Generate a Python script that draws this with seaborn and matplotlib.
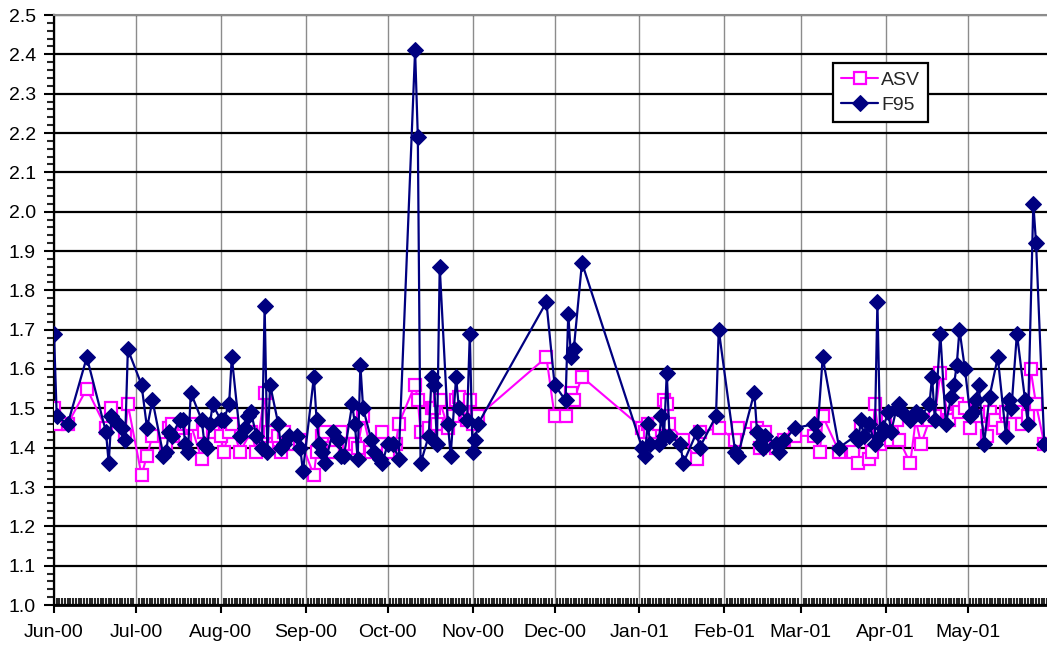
import matplotlib
matplotlib.use("Agg")
import matplotlib.pyplot as plt
import matplotlib.dates as mdates
from matplotlib.ticker import MultipleLocator, FormatStrFormatter
import pandas as pd
import seaborn as sns

start = pd.Timestamp("2000-06-01")

# day offsets from 1 Jun 2000 and values
asv_days = [0, 1, 5, 12, 19, 21, 26, 27, 32, 34, 36, 41, 42, 43, 46, 48, 50, 54, 55, 58,
            61, 62, 64, 65, 68, 72, 74, 77, 78, 79, 82, 83, 84, 88, 90, 95, 96, 98, 99, 102,
            105, 108, 110, 111, 113, 116, 119, 120, 122, 125, 126, 132, 133, 134, 137, 138,
            139, 140, 141, 144, 146, 147, 148, 151, 152, 153, 155,
            180, 183, 187, 189, 190, 193,
            215, 216, 217, 218, 221, 223, 224, 225, 230, 235, 236, 243, 249, 250, 257, 258,
            260, 264, 267, 271, 278, 280, 281, 287, 292, 294, 295, 298, 299, 300, 302, 305,
            306, 308, 309, 313, 315, 317, 320, 322, 324, 327, 330, 331, 333, 335, 338, 341,
            342, 344, 347, 348, 352, 354, 356, 357, 359, 362]
asv_vals = [1.50, 1.46, 1.46, 1.55, 1.45, 1.50, 1.43, 1.51, 1.33, 1.38, 1.43, 1.41, 1.45, 1.46,
            1.43, 1.42, 1.46, 1.37, 1.44, 1.44,
            1.43, 1.39, 1.44, 1.46, 1.39, 1.44, 1.39, 1.54, 1.40, 1.44, 1.43, 1.39, 1.44, 1.41,
            1.42, 1.33, 1.39, 1.43, 1.44, 1.39,
            1.44, 1.41, 1.41, 1.40, 1.48, 1.39, 1.41, 1.44, 1.39, 1.41, 1.46, 1.56, 1.52, 1.44,
            1.45, 1.50, 1.50, 1.46, 1.52, 1.45, 1.48, 1.52, 1.53, 1.47, 1.52, 1.46, 1.48,
            1.63, 1.48, 1.48, 1.54, 1.52, 1.58,
            1.45, 1.44, 1.46, 1.44, 1.46, 1.52, 1.51, 1.46, 1.42, 1.37, 1.44, 1.45, 1.42, 1.45,
            1.45, 1.40, 1.44, 1.40, 1.42, 1.43, 1.43, 1.39, 1.48, 1.39, 1.39, 1.36, 1.45, 1.37,
            1.39, 1.51, 1.41, 1.47, 1.42, 1.47, 1.42, 1.36, 1.47, 1.41, 1.47, 1.48, 1.59, 1.47,
            1.51, 1.49, 1.50, 1.45, 1.48, 1.43, 1.49, 1.47, 1.45, 1.49, 1.49, 1.46, 1.48, 1.60,
            1.51, 1.41]

f95_days = [0, 1, 5, 12, 19, 20, 21, 22, 25, 26, 27, 32, 34, 36, 40, 41, 42, 43, 46, 47,
            48, 49, 50, 54, 55, 56, 57, 58, 61, 62, 64, 65, 68, 70, 71, 72, 74, 76, 77, 78,
            79, 82, 83, 84, 86, 89, 90, 91, 95, 96, 97, 98, 99, 102, 104, 105, 106, 109, 110,
            111, 112, 113, 116, 117, 119, 120, 122, 124, 126, 132, 133, 134, 137, 138, 139,
            140, 141, 144, 145, 147, 148, 151, 152, 153, 154, 155,
            180, 183, 187, 188, 189, 190, 193,
            215, 216, 217, 218, 221, 222, 223, 224, 225, 229, 230, 235, 236, 242, 243, 249,
            250, 256, 257, 258, 259, 260, 264, 265, 267, 271, 278, 279, 281, 287, 293, 294,
            295, 296, 298, 300, 301, 302, 303, 305, 306, 308, 309, 310, 313, 315, 317, 320,
            321, 322, 324, 326, 328, 329, 330, 331, 333, 335, 336, 337, 338, 340, 342, 345,
            348, 349, 350, 352, 355, 356, 358, 359, 362]
f95_vals = [1.69, 1.48, 1.46, 1.63, 1.44, 1.36, 1.48, 1.47, 1.45, 1.42, 1.65, 1.56, 1.45, 1.52,
            1.38, 1.39, 1.44, 1.43, 1.47, 1.47,
            1.41, 1.39, 1.54, 1.47, 1.41, 1.40, 1.46, 1.51, 1.47, 1.47, 1.51, 1.63, 1.43, 1.45,
            1.48, 1.49, 1.43, 1.40, 1.76, 1.39,
            1.56, 1.46, 1.40, 1.41, 1.43, 1.43, 1.40, 1.34, 1.58, 1.47, 1.41, 1.39, 1.36, 1.44,
            1.42, 1.38, 1.38, 1.51, 1.46,
            1.37, 1.61, 1.50, 1.42, 1.39, 1.37, 1.36, 1.41, 1.41, 1.37, 2.41, 2.19, 1.36, 1.43,
            1.58, 1.56,
            1.41, 1.86, 1.46, 1.38, 1.58, 1.50, 1.47, 1.69, 1.39, 1.42, 1.46,
            1.77, 1.56, 1.52, 1.74, 1.63, 1.65, 1.87,
            1.40, 1.38, 1.46, 1.41, 1.41, 1.48, 1.43, 1.59, 1.43, 1.41, 1.36, 1.44, 1.40, 1.48,
            1.70, 1.39,
            1.38, 1.54, 1.44, 1.41, 1.40, 1.43, 1.41, 1.39, 1.42, 1.45, 1.46, 1.43, 1.63, 1.40,
            1.43, 1.42,
            1.47, 1.43, 1.46, 1.41, 1.77, 1.43, 1.45, 1.49, 1.44, 1.50, 1.51, 1.49, 1.47, 1.49,
            1.48, 1.51,
            1.58, 1.47, 1.69, 1.46, 1.53, 1.56, 1.61, 1.70, 1.60, 1.48, 1.49, 1.52, 1.56, 1.41,
            1.53, 1.63,
            1.43, 1.52, 1.50, 1.69, 1.52, 1.46, 2.02, 1.92, 1.41]

asv = pd.DataFrame({"date": start + pd.to_timedelta(asv_days, unit="D"), "value": asv_vals})
f95 = pd.DataFrame({"date": start + pd.to_timedelta(f95_days, unit="D"), "value": f95_vals})

sns.set_style("white")
plt.rcParams["font.family"] = ["Liberation Sans", "DejaVu Sans"]
plt.rcParams["font.size"] = 14

fig = plt.figure(figsize=(10.47, 6.47), dpi=100)
ax = fig.add_axes([54 / 1047, 42 / 647, 993 / 1047, 590 / 647])

sns.lineplot(data=asv, x="date", y="value", ax=ax, color="#FF00FF", linewidth=1.5,
             marker="s", markersize=8, markerfacecolor="white", markeredgecolor="#FF00FF",
             markeredgewidth=1.6, estimator=None, sort=False, label="ASV", zorder=3)
sns.lineplot(data=f95, x="date", y="value", ax=ax, color="#000080", linewidth=1.6,
             marker="D", markersize=8, markeredgecolor="#000080", markerfacecolor="#000080",
             estimator=None, sort=False, label="F95", zorder=4)

ax.set_xlim(start, start + pd.Timedelta(days=363))
ax.set_ylim(1.0, 2.5)
ax.set_xlabel("")
ax.set_ylabel("")

ax.xaxis.set_major_locator(mdates.MonthLocator())
ax.xaxis.set_minor_locator(mdates.DayLocator())
ax.xaxis.set_major_formatter(mdates.DateFormatter("%b-%y"))
ax.yaxis.set_major_locator(MultipleLocator(0.1))
ax.yaxis.set_minor_locator(MultipleLocator(0.02))
ax.yaxis.set_major_formatter(FormatStrFormatter("%.1f"))

ax.tick_params(axis="x", which="major", direction="out", length=6, width=1.5, pad=8,
               bottom=True, labelsize=14, colors="black")
ax.tick_params(axis="x", which="minor", direction="in", length=5, width=1.5, bottom=True)
ax.tick_params(axis="y", which="major", direction="out", length=7, width=1.5, pad=6,
               left=True, labelsize=14, colors="black")
ax.tick_params(axis="y", which="minor", direction="out", length=5, width=1.5, left=True)

ax.set_axisbelow(True)
ax.yaxis.grid(True, which="major", color="black", linewidth=1.6)
ax.xaxis.grid(True, which="major", color="#8c8c8c", linewidth=1.0)

for side in ["left", "bottom"]:
    ax.spines[side].set_color("black")
    ax.spines[side].set_linewidth(1.6)
ax.spines["bottom"].set_linewidth(2)
ax.spines["top"].set_color("#8c8c8c")
ax.spines["top"].set_linewidth(1.5)
ax.spines["right"].set_visible(False)

handles, labels = ax.get_legend_handles_labels()
order = [labels.index("ASV"), labels.index("F95")]
leg = ax.legend([handles[i] for i in order], [labels[i] for i in order],
                loc="upper left", bbox_to_anchor=((833 - 54) / 993, (605 - 63) / 590),
                borderaxespad=0, frameon=True, fancybox=False, framealpha=1,
                edgecolor="black", fontsize=14, handlelength=1.9, handletextpad=0.15,
                borderpad=0.42, labelspacing=0.4)
leg.get_frame().set_linewidth(1.6)

fig.savefig("out.png", dpi=100)
